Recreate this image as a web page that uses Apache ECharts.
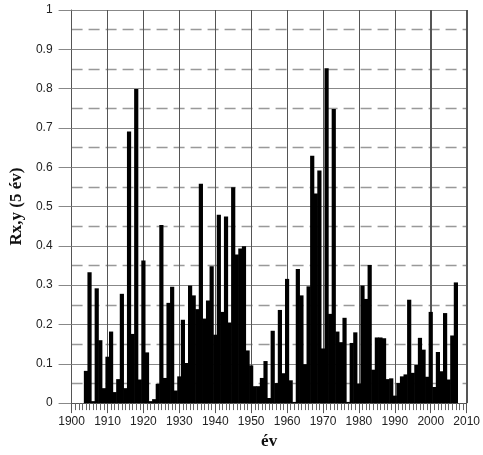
<!DOCTYPE html>
<html>
<head>
<meta charset="utf-8">
<script src="https://cdn.jsdelivr.net/npm/echarts@6/dist/echarts.min.js"></script>
<style>html,body{margin:0;padding:0;background:#fff}#c{width:483px;height:455px}</style>
</head>
<body>
<div id="c"></div>
<script>
var years = [];
for (var y = 1904; y <= 2007; y++) years.push(y);
var values = [
  0.082, 0.333, 0.005, 0.292, 0.160, 0.038, 0.118, 0.182, 0.028, 0.061,
  0.278, 0.038, 0.691, 0.176, 0.799, 0.060, 0.363, 0.129, 0.005, 0.010,
  0.049, 0.453, 0.064, 0.255, 0.296, 0.032, 0.068, 0.212, 0.102, 0.299,
  0.274, 0.239, 0.558, 0.215, 0.261, 0.348, 0.174, 0.479, 0.232, 0.475,
  0.205, 0.549, 0.378, 0.393, 0.399, 0.134, 0.096, 0.043, 0.043, 0.064,
  0.107, 0.013, 0.184, 0.051, 0.237, 0.076, 0.316, 0.058, 0.003, 0.341,
  0.274, 0.099, 0.297, 0.629, 0.533, 0.592, 0.139, 0.852, 0.227, 0.748,
  0.182, 0.155, 0.217, 0.003, 0.153, 0.180, 0.050, 0.299, 0.265, 0.351,
  0.085, 0.167, 0.167, 0.165, 0.061, 0.063, 0.019, 0.051, 0.068, 0.073,
  0.263, 0.077, 0.097, 0.166, 0.136, 0.067, 0.232, 0.041, 0.130, 0.081,
  0.229, 0.060, 0.172, 0.307
];
var decades = [1910, 1920, 1930, 1940, 1950, 1960, 1970, 1980, 1990, 2000, 2010];
var xName = 'év';
var yName = 'Rx,y (5 év)';

(function () {
  var data = years.map(function (yr, i) { return [yr, values[i]]; });
  var chart = echarts.init(document.getElementById('c'), null, {renderer: 'canvas'});
  chart.setOption({
    animation: false,
    backgroundColor: '#fff',
    grid: {left: 63, right: 12.5, top: 10, bottom: 51.5},
    xAxis: {
      type: 'value', min: 1900, max: 2010, interval: 10,
      name: xName, nameLocation: 'middle', nameGap: 28,
      nameTextStyle: {fontFamily: 'Liberation Serif', fontWeight: 'bold', fontSize: 17, color: '#111'},
      axisLine: {show: true, lineStyle: {color: '#555', width: 1}},
      axisTick: {show: true, length: 10, lineStyle: {color: '#555'}},
      minorTick: {show: true, splitNumber: 10, length: 7, lineStyle: {color: '#666'}},
      axisLabel: {margin: 13, fontFamily: 'Liberation Sans', fontSize: 12, color: '#222',
        formatter: function (v) { return String(v); }},
      splitLine: {show: true, lineStyle: {color: '#555', width: 1, type: 'solid'}}
    },
    yAxis: {
      type: 'value', min: 0, max: 1, interval: 0.1,
      name: yName, nameLocation: 'middle', nameGap: 42, nameRotate: 90,
      nameTextStyle: {fontFamily: 'Liberation Serif', fontWeight: 'bold', fontSize: 17, color: '#111'},
      axisLine: {show: true, lineStyle: {color: '#555', width: 1}},
      axisTick: {show: true, length: 13, lineStyle: {color: '#888'}},
      axisLabel: {margin: 19, fontFamily: 'Liberation Sans', fontSize: 12, color: '#222'},
      splitLine: {show: true, lineStyle: {color: '#888', width: 1}},
      minorTick: {show: false, splitNumber: 2},
      minorSplitLine: {show: true, lineStyle: {color: '#999', width: 1.3, type: [11, 6]}}
    },
    series: [{
      type: 'bar',
      data: data,
      barWidth: 4.2,
      itemStyle: {color: '#000'},
      z: 3
    }]
  });
  // decade grid lines positioned through the library's own scales
  var yTop = chart.convertToPixel({yAxisIndex: 0}, 1);
  var yBottom = chart.convertToPixel({yAxisIndex: 0}, 0);
  chart.setOption({
    graphic: decades.map(function (d) {
      var px = Math.round(chart.convertToPixel({xAxisIndex: 0}, d)) + 0.5;
      return {type: 'line', z: 1, silent: true,
        shape: {x1: px, y1: yTop, x2: px, y2: yBottom},
        style: {stroke: '#555', lineWidth: 1}};
    })
  });
})();
</script>
</body>
</html>
